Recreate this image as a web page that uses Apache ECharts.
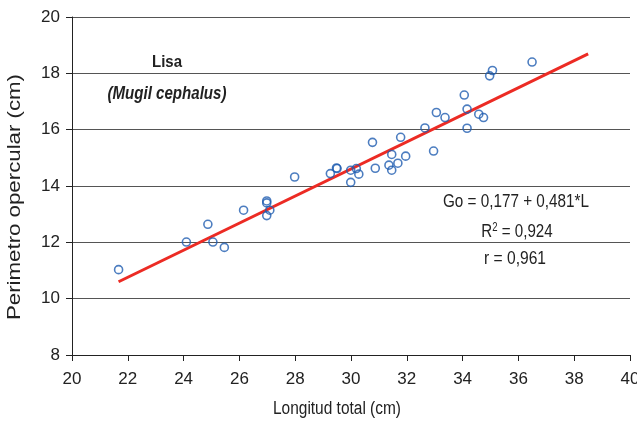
<!DOCTYPE html>
<html><head><meta charset="utf-8">
<script src="https://cdn.jsdelivr.net/npm/echarts@6/dist/echarts.min.js"></script>
<style>html,body{margin:0;padding:0;background:#fff}#c{width:637px;height:426px}</style>
</head><body><div id="c"></div>
<script>
const lengthCm = [21.67,24.10,24.87,25.05,25.46,26.15,26.98,26.98,27.09,26.98,27.98,29.26,29.50,29.48,29.99,29.99,30.19,30.28,30.77,30.87,31.36,31.46,31.46,31.68,31.78,31.96,32.65,32.96,33.06,33.37,34.06,34.16,34.16,34.58,34.75,34.97,35.07,36.49];
const opercular = [11.03,12.01,12.64,12.01,11.82,13.14,13.47,13.40,13.14,12.95,14.32,14.44,14.62,14.64,14.56,14.13,14.62,14.42,15.55,14.63,14.74,15.12,14.56,14.81,15.73,15.06,16.06,15.24,16.61,16.43,17.23,16.73,16.05,16.55,16.43,17.91,18.10,18.40];
const trendX = [21.67, 38.5];
const trendY = [10.60, 18.69];
const xTicks = [20,22,24,26,28,30,32,34,36,38,40];
const yTicks = [8,10,12,14,16,18,20];

const base = "'Liberation Sans',Arial,sans-serif";
const cv = document.createElement('canvas').getContext('2d');
function sx(text, font, target){ cv.font = font; return target / cv.measureText(text).width; }

function label(text, font, x, y, width, rot){
  return {type:'text', x:x, y:y, rotation:rot||0, scaleX:sx(text,font,width), scaleY:1,
    style:{text:text, font:font, fill:'#222', textAlign:'center', textVerticalAlign:'middle'}};
}

const fTitle = "bold 17px "+base;
const fSpec = "italic bold 18px "+base;
const fEq = "19px "+base;
const fAx = "18px "+base;

const r2Scale = sx('R = 0,924', fEq, 66);

const chart = echarts.init(document.getElementById('c'), null, {renderer:'canvas'});
chart.setOption({
  animation:false,
  backgroundColor:'#fff',
  grid:{left:72,right:7,top:17,bottom:71,containLabel:false,outerBoundsMode:'none'},
  xAxis:{type:'value',min:xTicks[0],max:xTicks[xTicks.length-1],interval:2,
    axisLine:{lineStyle:{color:'#222',width:1}},
    axisTick:{show:true,length:6,lineStyle:{color:'#222'}},
    axisLabel:{fontFamily:base,fontSize:17,color:'#222',margin:16},
    splitLine:{show:false}},
  yAxis:{type:'value',min:yTicks[0],max:yTicks[yTicks.length-1],interval:2,
    axisLine:{show:true,lineStyle:{color:'#222',width:1}},
    axisTick:{show:true,length:6,lineStyle:{color:'#222'}},
    axisLabel:{fontFamily:base,fontSize:17,color:'#222',margin:12},
    splitLine:{show:true,lineStyle:{color:'#555',width:1.2}}},
  graphic:[
    label('Perimetro opercular (cm)', fAx, 15, 197, 246, Math.PI/2),
    label('Longitud total (cm)', fAx, 337, 409, 128),
    label('Lisa', fTitle, 167, 62, 30),
    label('(Mugil cephalus)', fSpec, 167, 94, 119),
    label('Go = 0,177 + 0,481*L', fEq, 516, 202, 146),
    {type:'text', x:517, y:232, scaleX:r2Scale, scaleY:1,
      style:{text:'{a|R}{s|2}{a| = 0,924}', fill:'#222', textAlign:'center', textVerticalAlign:'middle',
        rich:{a:{font:fEq, fill:'#222', lineHeight:20}, s:{font:"12px "+base, fill:'#222', verticalAlign:'top', lineHeight:20, padding:[0,0,8,0]}}}},
    label('r = 0,961', fEq, 515, 259, 62)
  ],
  series:[
    {type:'line',data:trendX.map((x,i)=>[x,trendY[i]]),symbol:'none',lineStyle:{color:'#ec2b24',width:3},z:3},
    {type:'scatter',data:lengthCm.map((x,i)=>[x,opercular[i]]),symbol:'circle',symbolSize:8,
      itemStyle:{color:'rgba(255,255,255,0)',borderColor:'#1f5cb0',borderWidth:1.6},z:4}
  ]
});
</script></body></html>
